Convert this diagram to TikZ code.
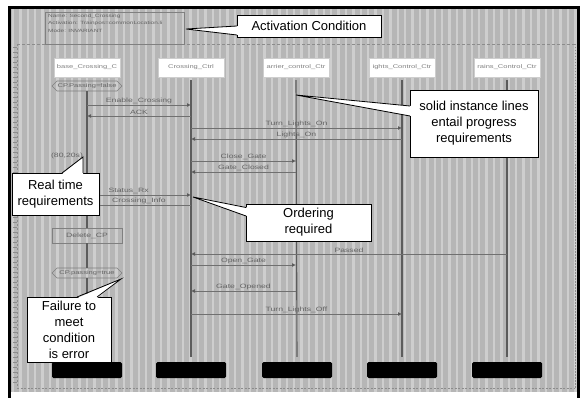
\documentclass[tikz,border=0pt]{standalone}
\usepackage{fontspec}
\setmainfont{Liberation Sans}
\newfontfamily\tinyface[FakeStretch=1.4]{Liberation Sans}
\usetikzlibrary{arrows.meta,shapes.symbols}

\definecolor{bggray}{RGB}{182,182,182}
\definecolor{stripegray}{RGB}{206,206,206}
\definecolor{lifegray}{RGB}{92,92,92}
\definecolor{msggray}{RGB}{112,112,112}
\definecolor{lblgray}{RGB}{100,100,100}
\definecolor{rulegray}{RGB}{140,140,140}
\definecolor{boxgray}{RGB}{128,128,128}
\definecolor{headtext}{RGB}{130,130,130}

\newcommand\lblfont{\tinyface\fontsize{6.2}{7}\selectfont}
\newcommand\headfont{\tinyface\fontsize{5.4}{7}\selectfont}
\newcommand\prefont{\tinyface\fontsize{4.6}{7.6}\selectfont}
\newcommand\callfont{\fontsize{13}{16}\selectfont}

\begin{document}
\begin{tikzpicture}[x=1pt,y=-1pt,
  head/.style={draw=stripegray,fill=white,minimum width=66pt,minimum height=19pt,
    inner sep=0pt,font=\headfont,text=headtext},
  life/.style={draw=lifegray,line width=1.1pt},
  msg/.style={draw=msggray,line width=0.8pt,-{Latex[length=4pt,width=4pt,color=lifegray]}},
  lbl/.style={font=\lblfont,text=lblgray,inner sep=0.6pt,anchor=south},
  cond/.style={shape=signal,signal to=west and east,draw=boxgray,line width=0.7pt,
    minimum width=70pt,minimum height=10pt,inner sep=0.5pt,font=\headfont,text=lblgray},
  actbox/.style={draw=boxgray,line width=0.7pt,minimum width=70pt,minimum height=15pt,
    inner sep=0pt,font=\lblfont,text=lblgray},
  endbar/.style={fill=black,minimum width=70pt,minimum height=16pt,inner sep=0pt,
    rounded corners=1.5pt},
  callout/.style={draw=black,fill=white,line width=0.8pt,inner sep=0pt,outer sep=0pt,
    align=center,font=\callfont},
  callline/.style={draw=black,line width=0.8pt,line join=miter},
  ruler/.style={draw=rulegray,line width=0.6pt}]

\useasboundingbox (0,0) rectangle (583,398);
\fill[white] (0,0) rectangle (583,398);

% striped canvas
\fill[bggray] (11,9) rectangle (577,392);
\foreach \i in {0,...,76}
  \draw[stripegray,line width=2.4pt] ({13+7.4*\i},9) -- ({13+7.4*\i},392);

% window frame
\draw[line width=2.5pt] (9.5,398) -- (9.5,7.5) -- (578.5,7.5) -- (578.5,398);

% chart frame and rulers
\draw[ruler,dash pattern=on 3pt off 2pt] (17,44) -- (575,44);
\draw[ruler,dash pattern=on 1.5pt off 1.5pt] (575,44) -- (575,388);
\draw[ruler,dash pattern=on 2pt off 1.5pt] (17,388) -- (575,388);
\draw[ruler,dash pattern=on 2pt off 2pt] (17,44) -- (17,388);
\foreach \y in {47,52,...,385}
  \draw[ruler,line width=0.5pt] (13,\y) -- (17,\y);

% prechart box
\node[draw=boxgray,line width=0.7pt,minimum width=139pt,minimum height=32pt,
  inner sep=0pt,anchor=north west] (prechart) at (45,12) {};
\node[anchor=north west,align=left,inner sep=0pt,font=\prefont,text=lblgray]
  (pretext) at (48,13.5)
  {Name: Second\_Crossing\\Activation: Trainpos=commonLocation.li\\Mode: INVARIANT};

% instance heads
\node[head] (h1) at (87,67.5) {base\_Crossing\_C};
\node[head] (h2) at (191,67.5) {Crossing\_Ctrl};
\node[head] (h3) at (296,67.5) {arrier\_control\_Ctr};
\node[head] (h4) at (402,67.5) {ights\_Control\_Ctr};
\node[head] (h5) at (507,67.5) {rains\_Control\_Ctr};

% instance ends
\node[endbar] (b1) at (87,370) {};
\node[endbar] (b2) at (191,370) {};
\node[endbar] (b3) at (297,370) {};
\node[endbar] (b4) at (402,370) {};
\node[endbar] (b5) at (507,370) {};

% conditions and local action on the first instance
\node[cond] (cp1) at (87,86) {CP.Passing=false};
\node[actbox] (del) at (87,235.5) {Delete\_CP};
\node[cond] (cp2) at (87,273) {CP.passing=true};
\node[lbl,anchor=center] (timer) at (67,156) {(80,20s)};

% instance lines
\draw[life] (cp1.south) -- (del.north);
\draw[life] (del.south) -- (cp2.north);
\draw[life] (cp2.south) -- ([yshift=5pt]b1.north);
\foreach \k in {2,...,5}
  \draw[life] ([yshift=-3pt]h\k.south) -- ([yshift=5pt]b\k.north);

% messages
\draw[msg] (h1 |- 0,105) -- node[lbl] {Enable\_Crossing} (h2 |- 0,105);
\draw[msg] (h2 |- 0,116) -- node[lbl] {ACK} (h1 |- 0,116);
\draw[msg] (h2 |- 0,128) -- node[lbl] {Turn\_Lights\_On} (h4 |- 0,128);
\draw[msg] (h4 |- 0,139) -- node[lbl] {Lights\_On} (h2 |- 0,139);
\draw[msg] (h2 |- 0,161) -- node[lbl] {Close\_Gate} (h3 |- 0,161);
\draw[msg] (h3 |- 0,172) -- node[lbl] {Gate\_Closed} (h2 |- 0,172);
\draw[msg] (h1 |- 0,195) -- node[lbl,pos=0.4] {Status\_Rx} (h2 |- 0,195);
\draw[msg] (h2 |- 0,205) -- node[lbl] {Crossing\_Info} (h1 |- 0,205);
\draw[msg] (h5 |- 0,254) -- node[lbl] {Passed} (h2 |- 0,254);
\draw[msg] (h2 |- 0,265) -- node[lbl] {Open\_Gate} (h3 |- 0,265);
\draw[msg] (h3 |- 0,291) -- node[lbl] {Gate\_Opened} (h2 |- 0,291);
\draw[msg] (h2 |- 0,314) -- node[lbl] {Turn\_Lights\_Off} (h4 |- 0,314);

% callout: activation condition
\node[callout,minimum width=144pt,minimum height=22pt] (act) at (309,26) {Activation Condition};
\coordinate (actTip) at (186,29);
\fill[white] (actTip) -- (238.2,26) -- (238.2,35) -- cycle;
\draw[callline] (act.west |- 0,26) -- (actTip) -- (act.west |- 0,35);

% callout: progress requirements
\node[callout,minimum width=128pt,minimum height=67pt] (prog) at (474,123.5)
  {solid instance lines\\entail progress\\requirements};
\coordinate (progTip) at (296,95);
\fill[white] (progTip) -- (411.2,106) -- (411.2,116) -- cycle;
\draw[callline] (prog.west |- 0,106) -- (progTip) -- (prog.west |- 0,116);

% callout: real time
\node[callout,minimum width=87pt,minimum height=42pt] (rt) at (55.5,194)
  {Real time\\requirements};
\coordinate (rtTip) at (83,157);
\fill[white] (rtTip) -- (62,174.2) -- (83,174.2) -- cycle;
\draw[callline] (62,173) -- (rtTip) -- (83,173);

% callout: ordering
\node[callout,minimum width=125pt,minimum height=37pt] (ord) at (308.5,222.5)
  {Ordering\\required};
\coordinate (ordTip) at (193,197);
\fill[white] (ordTip) -- (247.2,207.5) -- (247.2,216) -- cycle;
\draw[callline] (ord.west |- 0,207.5) -- (ordTip) -- (ord.west |- 0,216);

% callout: failure
\node[callout,minimum width=84pt,minimum height=65pt] (fail) at (69,329.5)
  {Failure to\\meet\\condition\\is error};
\coordinate (failTip) at (121,279);
\fill[white] (failTip) -- (77,298.2) -- (97,298.2) -- cycle;
\draw[callline] (77,297) -- (failTip) -- (97,297);

\end{tikzpicture}
\end{document}
